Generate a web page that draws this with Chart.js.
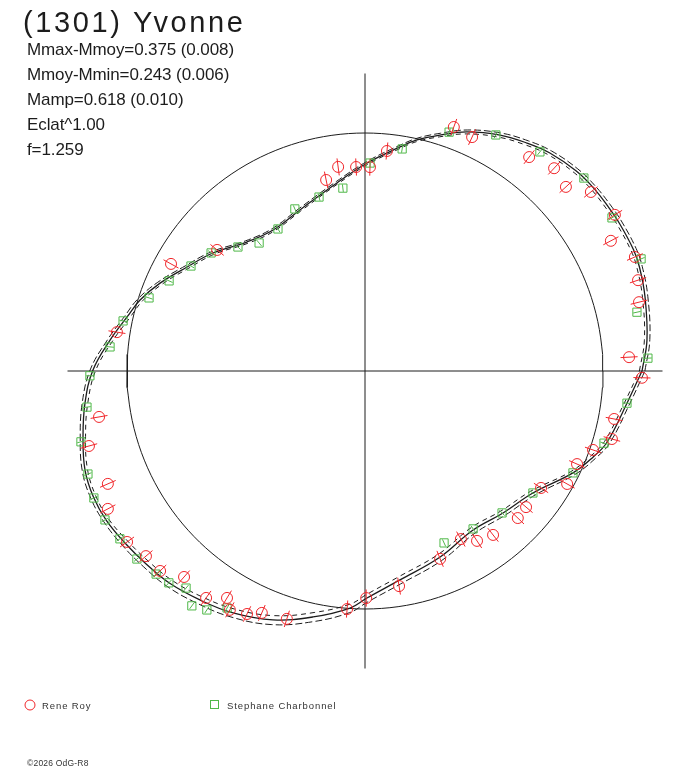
<!DOCTYPE html>
<html>
<head>
<meta charset="utf-8">
<title>(1301) Yvonne</title>
<script src="https://cdn.jsdelivr.net/npm/chart.js@4.4.1/dist/chart.umd.min.js"></script>
<style>
    html, body { margin: 0; padding: 0; background: #fff; }
    #wrap { width: 688px; height: 768px; }
</style>
</head>
<body>
<div id="wrap"><canvas id="lcChart" width="688" height="768"></canvas></div>
<script>
// Polar lightcurve of (1301) Yvonne
// angle = rotational phase (deg), radius in units of the mean circle

const titleText = '(1301) Yvonne';
const infoLines = [
    'Mmax-Mmoy=0.375 (0.008)',
    'Mmoy-Mmin=0.243 (0.006)',
    'Mamp=0.618 (0.010)',
    'Eclat^1.00',
    'f=1.259'
];
const seriesNames = ['Rene Roy', 'Stephane Charbonnel'];
const footerText = '\u00a92026 OdG-R8';

// Fitted curve (solid) and its two dashed envelopes
const curvePhase = [0, 6.3, 14.8, 20.7, 24.3, 30.1, 34.1, 38.9, 43.5, 49.7, 54.6, 60.2, 66.9, 72.4, 77.3, 81.1,
    89.4, 98.5, 112.0, 123.1, 132.5, 142.2, 149.7, 156.8, 162.5, 167.2, 173.1, 179.8, 186.5, 193.2, 199.5,
    204.9, 210.0, 215.9, 221.4, 227.4, 234.2, 241.4, 249.7, 258.1, 266.4, 270.5, 279.5, 292.0, 304.2, 314.2,
    324.0, 333.9, 339.3, 343.6, 353.0];
const curveRadius = [1.164, 1.192, 1.217, 1.233, 1.238, 1.236, 1.233, 1.230, 1.222, 1.201, 1.175, 1.142, 1.092,
    1.040, 0.995, 0.953, 0.874, 0.799, 0.730, 0.707, 0.735, 0.809, 0.866, 0.937, 0.991, 1.025, 1.079, 1.143,
    1.184, 1.217, 1.248, 1.258, 1.255, 1.240, 1.226, 1.212, 1.186, 1.158, 1.115, 1.056, 0.998, 0.954, 0.890,
    0.843, 0.808, 0.832, 0.872, 0.973, 1.024, 1.060, 1.109];
const curveUpper = [1.176, 1.204, 1.229, 1.245, 1.250, 1.248, 1.245, 1.241, 1.233, 1.212, 1.186, 1.152, 1.101,
    1.048, 1.003, 0.961, 0.881, 0.806, 0.737, 0.714, 0.742, 0.817, 0.875, 0.947, 1.002, 1.036, 1.090, 1.155,
    1.196, 1.229, 1.260, 1.270, 1.267, 1.255, 1.242, 1.229, 1.204, 1.177, 1.136, 1.077, 1.017, 0.972, 0.907,
    0.859, 0.823, 0.845, 0.885, 0.985, 1.036, 1.072, 1.121];
const curveLower = [1.153, 1.181, 1.206, 1.222, 1.227, 1.225, 1.222, 1.219, 1.211, 1.191, 1.165, 1.132, 1.083,
    1.032, 0.988, 0.946, 0.867, 0.793, 0.724, 0.701, 0.728, 0.801, 0.857, 0.927, 0.980, 1.013, 1.067, 1.131,
    1.172, 1.206, 1.237, 1.247, 1.244, 1.226, 1.211, 1.196, 1.170, 1.140, 1.096, 1.037, 0.981, 0.938, 0.875,
    0.829, 0.795, 0.820, 0.860, 0.962, 1.013, 1.049, 1.098];

// Observations: Rene Roy
const royPhase = [70.0, 65.4, 52.5, 47.0, 42.5, 38.4, 32.0, 27.9, 22.9, 18.4, 14.1, 3.0, 358.6, 349.1, 344.6,
    340.9, 336.3, 330.8, 326.4, 319.8, 316.1, 308.0, 303.4, 299.7, 291.8, 279.0, 270.3, 265.7, 252.5, 246.9,
    244.1, 240.5, 238.7, 235.0, 228.7, 224.3, 220.2, 215.7, 208.2, 203.7, 195.2, 189.8, 171.1, 151.1, 140.7,
    101.5, 97.5, 92.5, 88.6, 84.3];
const royRadius = [1.091, 1.081, 1.133, 1.165, 1.145, 1.211, 1.238, 1.169, 1.231, 1.209, 1.187, 1.111, 1.164,
    1.066, 1.076, 1.014, 0.973, 0.973, 0.888, 0.886, 0.891, 0.874, 0.855, 0.813, 0.850, 0.915, 0.954, 1.003,
    1.092, 1.105, 1.135, 1.153, 1.116, 1.164, 1.152, 1.203, 1.205, 1.231, 1.226, 1.180, 1.202, 1.134, 1.055,
    0.931, 0.803, 0.819, 0.865, 0.858, 0.857, 0.929];

// Observations: Stephane Charbonnel
const charbPhase = [70.6, 61.0, 51.4, 41.4, 31.8, 22.1, 12.2, 2.6, 353.0, 343.2, 333.9, 324.0, 314.0, 304.4,
    294.7, 239.8, 236.5, 233.6, 230.5, 227.2, 224.2, 219.5, 214.4, 209.8, 205.1, 200.4, 194.0, 187.4, 181.0,
    174.6, 168.3, 161.3, 155.3, 148.9, 142.5, 135.7, 129.6, 121.5, 113.4, 104.8, 96.9, 88.6, 80.5];
const charbRadius = [1.064, 1.134, 1.178, 1.226, 1.221, 1.252, 1.169, 1.190, 1.109, 1.049, 0.973, 0.872, 0.829,
    0.804, 0.795, 1.152, 1.204, 1.226, 1.182, 1.213, 1.224, 1.242, 1.248, 1.259, 1.258, 1.242, 1.230, 1.178,
    1.156, 1.076, 1.038, 0.958, 0.906, 0.854, 0.815, 0.746, 0.698, 0.700, 0.742, 0.756, 0.774, 0.874, 0.946];

// Layout (pixels)
const W = 688, H = 768;
const CENTER = { x: 365, y: 371 };
const UNIT = 238;          // pixels per radius unit
const AXIS_LEN = 1.25;     // half length of the cross axes

const RED = '#f0262a';
const GREEN = '#4fb848';
const INK = '#1c1c1c';

function toXY(ang, r) {
    const a = ang * Math.PI / 180;
    return { x: r * Math.cos(a), y: r * Math.sin(a), ang: ang, r: r };
}

function closedCurve(phases, radii) {
    const pts = phases.map((p, i) => toXY(p, radii[i]));
    pts.push(pts[0]);
    return pts;
}

// mean circle, r = 1
const circlePts = [];
for (let a = 0; a <= 360; a += 2) circlePts.push(toXY(a, 1));

// Radial error bars through each observation
const errorBars = {
    id: 'errorBars',
    afterDatasetsDraw(chart) {
        const { ctx, scales: { x, y } } = chart;
        chart.data.datasets.forEach(ds => {
            if (!ds.errHalf) return;
            ctx.save();
            ctx.strokeStyle = ds.borderColor;
            ctx.lineWidth = 1;
            ds.data.forEach(p => {
                const a = toXY(p.ang, p.r - ds.errHalf);
                const b = toXY(p.ang, p.r + ds.errHalf);
                ctx.beginPath();
                ctx.moveTo(x.getPixelForValue(a.x), y.getPixelForValue(a.y));
                ctx.lineTo(x.getPixelForValue(b.x), y.getPixelForValue(b.y));
                ctx.stroke();
            });
            ctx.restore();
        });
    }
};

// Title, info block, legend and footer
const annotations = {
    id: 'annotations',
    afterDraw(chart) {
        const ctx = chart.ctx;
        ctx.save();
        ctx.fillStyle = INK;
        ctx.textBaseline = 'alphabetic';
        ctx.font = '29px "Liberation Sans", Arial, sans-serif';
        ctx.letterSpacing = '2.6px';
        ctx.fillText(titleText, 23, 32);

        ctx.font = '17px "Liberation Sans", Arial, sans-serif';
        ctx.letterSpacing = '-0.1px';
        infoLines.forEach((t, i) => ctx.fillText(t, 27, 55 + i * 25));

        // legend
        ctx.lineWidth = 1;
        ctx.strokeStyle = RED;
        ctx.beginPath();
        ctx.arc(30, 705, 5, 0, Math.PI * 2);
        ctx.stroke();
        ctx.strokeStyle = GREEN;
        ctx.strokeRect(210.5, 700.5, 8, 8);

        ctx.fillStyle = '#333';
        ctx.font = '9.5px "Liberation Sans", Arial, sans-serif';
        ctx.letterSpacing = '0.9px';
        ctx.fillText(seriesNames[0], 42, 709);
        ctx.fillText(seriesNames[1], 227, 709);

        ctx.font = '8.5px "Liberation Sans", Arial, sans-serif';
        ctx.letterSpacing = '0.2px';
        ctx.fillText(footerText, 27, 766);
        ctx.restore();
    }
};

const lineStyle = { showLine: true, pointRadius: 0, borderColor: INK, fill: false };

new Chart(document.getElementById('lcChart'), {
    type: 'scatter',
    data: {
        datasets: [
            {
                label: seriesNames[0],
                data: royPhase.map((p, i) => toXY(p, royRadius[i])),
                pointStyle: 'circle', pointRadius: 5.5, borderWidth: 1,
                borderColor: RED, backgroundColor: 'rgba(0,0,0,0)', errHalf: 0.036
            },
            {
                label: seriesNames[1],
                data: charbPhase.map((p, i) => toXY(p, charbRadius[i])),
                pointStyle: 'rect', pointRadius: 5.8, borderWidth: 1,
                borderColor: GREEN, backgroundColor: 'rgba(0,0,0,0)', errHalf: 0.016
            },
            { ...lineStyle, data: closedCurve(curvePhase, curveRadius), borderWidth: 1.3, tension: 0.4 },
            { ...lineStyle, data: closedCurve(curvePhase, curveUpper), borderWidth: 1, borderDash: [7, 3], tension: 0.4 },
            { ...lineStyle, data: closedCurve(curvePhase, curveLower), borderWidth: 1, borderDash: [5, 4], tension: 0.4 },
            { ...lineStyle, data: circlePts, borderWidth: 1, tension: 0 },
            { ...lineStyle, data: [{ x: -AXIS_LEN, y: 0 }, { x: AXIS_LEN, y: 0 }], borderWidth: 1 },
            { ...lineStyle, data: [{ x: 0, y: -AXIS_LEN }, { x: 0, y: AXIS_LEN }], borderWidth: 1 }
        ]
    },
    options: {
        responsive: false,
        devicePixelRatio: 1,
        animation: false,
        events: [],
        layout: { padding: 0, autoPadding: false },
        plugins: { legend: { display: false }, tooltip: { enabled: false }, title: { display: false } },
        scales: {
            x: { type: 'linear', display: false, min: -CENTER.x / UNIT, max: (W - CENTER.x) / UNIT },
            y: { type: 'linear', display: false, min: -(H - CENTER.y) / UNIT, max: CENTER.y / UNIT }
        }
    },
    plugins: [errorBars, annotations]
});
</script>
</body>
</html>
